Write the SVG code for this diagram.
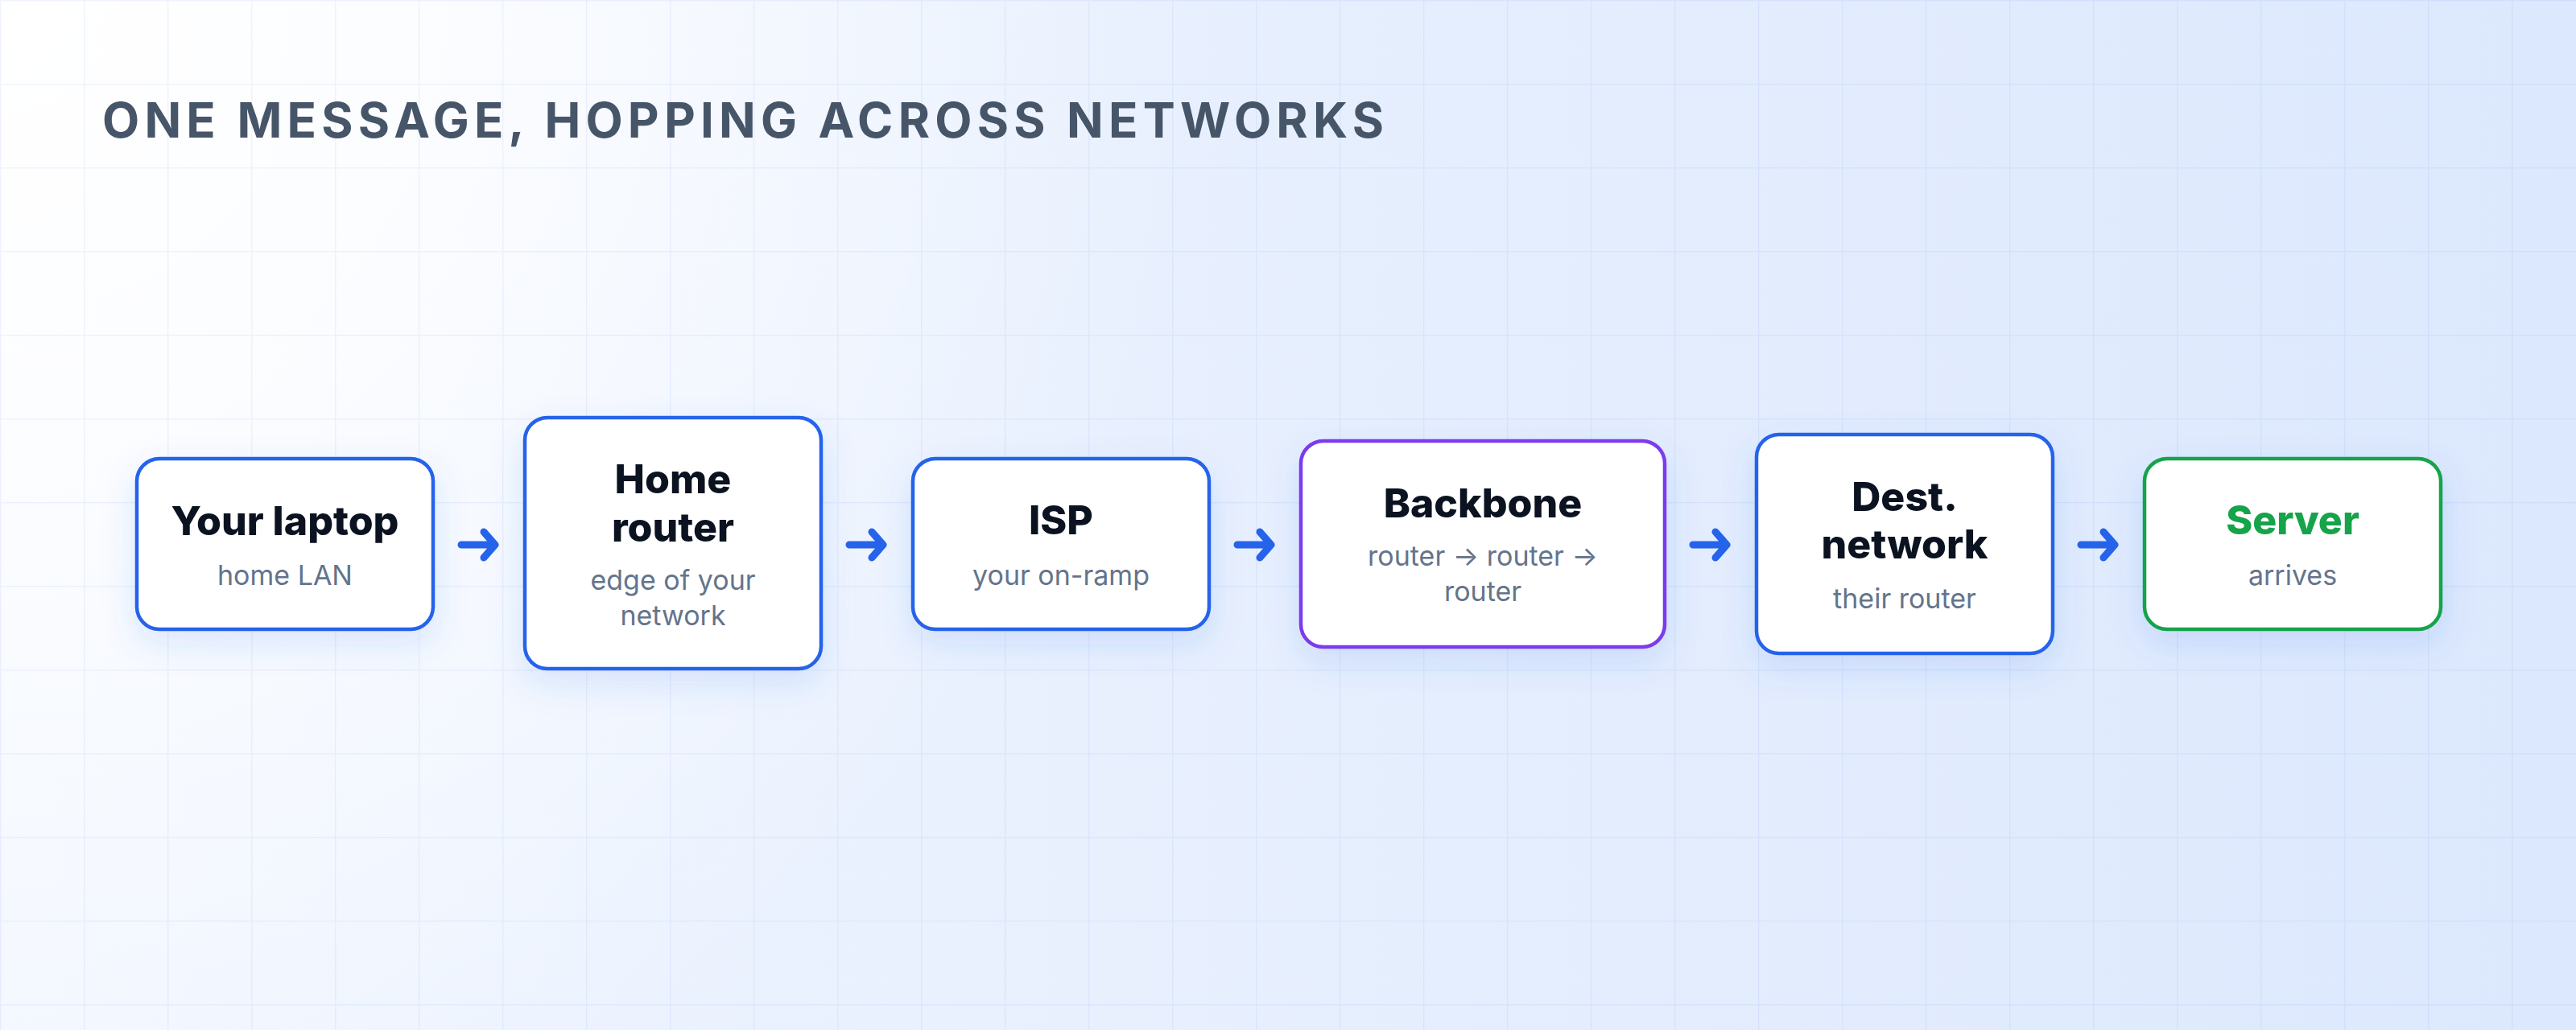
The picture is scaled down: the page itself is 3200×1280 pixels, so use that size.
<svg xmlns="http://www.w3.org/2000/svg" width="3200" height="1280" viewBox="0 0 3200 1280">
  <defs>
    <linearGradient id="bg" x1="0" y1="0" x2="3200" y2="0" gradientUnits="userSpaceOnUse">
      <stop offset="0" stop-color="#f1f6ff"/>
      <stop offset="1" stop-color="#dce8fd"/>
    </linearGradient>
    <radialGradient id="glow" cx="0" cy="0" r="1500" gradientUnits="userSpaceOnUse">
      <stop offset="0" stop-color="#ffffff" stop-opacity="1"/>
      <stop offset="0.35" stop-color="#ffffff" stop-opacity="0.8"/>
      <stop offset="1" stop-color="#ffffff" stop-opacity="0"/>
    </radialGradient>
    <pattern id="grid" x="0" y="0" width="104" height="104" patternUnits="userSpaceOnUse">
      <path d="M104 0 L0 0 L0 104" fill="none" stroke="#2563eb" stroke-opacity="0.07" stroke-width="3"/>
    </pattern>
    <filter id="shadow" x="-30%" y="-30%" width="160%" height="180%">
      <feDropShadow dx="0" dy="16" stdDeviation="20" flood-color="#2563eb" flood-opacity="0.14"/>
    </filter>
  </defs>
  <style>
    .box { fill: #ffffff; stroke-width: 4.5; filter: url(#shadow); }
    .blue { stroke: #2563eb; }
    .purple { stroke: #7c3aed; }
    .green { stroke: #16a34a; }
    .t { font-family: Inter, "Liberation Sans", sans-serif; font-weight: 800; font-size: 50px; fill: #0b1220; text-anchor: middle; }
    .t.ok { fill: #16a34a; }
    .s { font-family: Inter, "Liberation Sans", sans-serif; font-weight: 400; font-size: 34px; fill: #64748b; text-anchor: middle; }
    .title { font-family: Inter, "Liberation Sans", sans-serif; font-weight: 700; font-size: 60px; fill: #475569; letter-spacing: 6.2px; }
    .arrow { fill: none; stroke: #2563eb; stroke-width: 9; stroke-linecap: round; stroke-linejoin: round; }
  </style>

  <rect width="3200" height="1280" fill="url(#bg)"/>
  <rect width="3200" height="1280" fill="url(#glow)"/>
  <rect width="3200" height="1280" fill="url(#grid)"/>

  <text class="title" x="127" y="171">ONE MESSAGE, HOPPING ACROSS NETWORKS</text>

  <g id="node-laptop">
    <rect class="box blue" x="170" y="570" width="368" height="212" rx="28"/>
    <text class="t" x="354" y="665">Your laptop</text>
    <text class="s" x="354" y="727">home LAN</text>
  </g>

  <g id="node-home-router">
    <rect class="box blue" x="652" y="519" width="368" height="312" rx="28"/>
    <text class="t" x="836" y="613">Home</text>
    <text class="t" x="836" y="673">router</text>
    <text class="s" x="836" y="733">edge of your</text>
    <text class="s" x="836" y="777">network</text>
  </g>

  <g id="node-isp">
    <rect class="box blue" x="1134" y="570" width="368" height="212" rx="28"/>
    <text class="t" x="1318" y="664">ISP</text>
    <text class="s" x="1318" y="727">your on-ramp</text>
  </g>

  <g id="node-backbone">
    <rect class="box purple" x="1616" y="548" width="452" height="256" rx="28"/>
    <text class="t" x="1842" y="643">Backbone</text>
    <text class="s" x="1842" y="703">router → router →</text>
    <text class="s" x="1842" y="747">router</text>
  </g>

  <g id="node-dest">
    <rect class="box blue" x="2182" y="540" width="368" height="272" rx="28"/>
    <text class="t" x="2366" y="635">Dest.</text>
    <text class="t" x="2366" y="694">network</text>
    <text class="s" x="2366" y="756">their router</text>
  </g>

  <g id="node-server">
    <rect class="box green" x="2664" y="570" width="368" height="212" rx="28"/>
    <text class="t ok" x="2848" y="664">Server</text>
    <text class="s" x="2848" y="727">arrives</text>
  </g>

  <g id="connectors">
    <path class="arrow" d="M573 677 L613 677 M601 661 L615 677 L601 693"/>
    <path class="arrow" d="M1055 677 L1095 677 M1083 661 L1097 677 L1083 693"/>
    <path class="arrow" d="M1537 677 L1577 677 M1565 661 L1579 677 L1565 693"/>
    <path class="arrow" d="M2103 677 L2143 677 M2131 661 L2145 677 L2131 693"/>
    <path class="arrow" d="M2585 677 L2625 677 M2613 661 L2627 677 L2613 693"/>
  </g>
</svg>
